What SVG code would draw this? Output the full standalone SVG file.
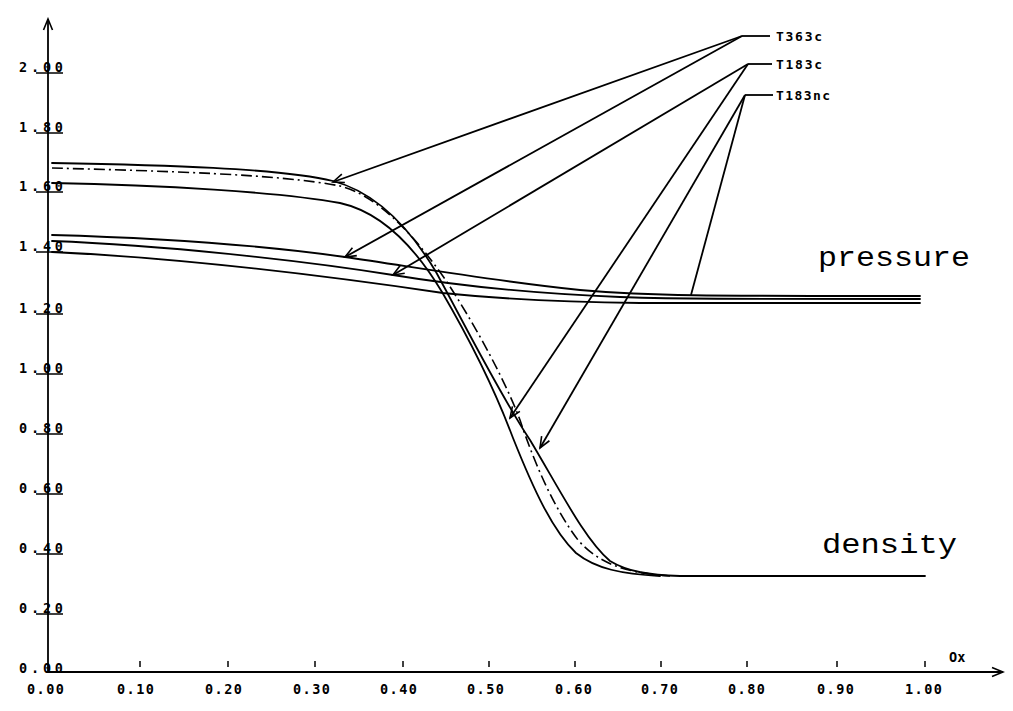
<svg xmlns="http://www.w3.org/2000/svg" width="1013" height="711" viewBox="0 0 1013 711">
<style>
.ax{stroke:#000;stroke-width:1.8;fill:none}
.tk{stroke:#000;stroke-width:1.5;fill:none}
.cv{stroke:#000;stroke-width:1.8;fill:none;stroke-linecap:round}
.dd{stroke:#000;stroke-width:1.6;fill:none;stroke-dasharray:11 4 2 4}
.ld{stroke:#000;stroke-width:1.8;fill:none}
.lb{font-family:"DejaVu Sans Mono","Liberation Mono",monospace;font-weight:bold;font-size:13.5px;fill:#000}
.lg{font-family:"DejaVu Sans Mono","Liberation Mono",monospace;font-weight:bold;font-size:13px;fill:#000}
.big{font-family:"Liberation Mono","Courier New",monospace;font-size:28px;fill:#000}
</style>
<defs>
<marker id="ah" viewBox="-12 -6 14 12" markerWidth="14" markerHeight="12" refX="0" refY="0" orient="auto" markerUnits="userSpaceOnUse">
<path d="M-11,-4.5 L0,0 L-11,4.5" fill="none" stroke="#000" stroke-width="1.6"/>
</marker>
</defs>
<rect width="1013" height="711" fill="#fff"/>
<g id="axes">
<line class="ax" x1="48" y1="672" x2="48" y2="19" marker-end="url(#ah)"/>
<line class="ax" x1="48" y1="672" x2="1003" y2="672" marker-end="url(#ah)"/>
<g id="yticks">
<line class="tk" x1="36" y1="73" x2="63" y2="73"/>
<line class="tk" x1="36" y1="133" x2="63" y2="133"/>
<line class="tk" x1="36" y1="192" x2="63" y2="192"/>
<line class="tk" x1="36" y1="252" x2="63" y2="252"/>
<line class="tk" x1="36" y1="314" x2="63" y2="314"/>
<line class="tk" x1="36" y1="374" x2="63" y2="374"/>
<line class="tk" x1="36" y1="434" x2="63" y2="434"/>
<line class="tk" x1="36" y1="494" x2="63" y2="494"/>
<line class="tk" x1="36" y1="554" x2="63" y2="554"/>
<line class="tk" x1="36" y1="614" x2="63" y2="614"/>
</g>
<g id="ylabels" class="lb">
<text x="19" y="72" textLength="44" lengthAdjust="spacing">2.00</text>
<text x="19" y="132" textLength="44" lengthAdjust="spacing">1.80</text>
<text x="19" y="191" textLength="44" lengthAdjust="spacing">1.60</text>
<text x="19" y="251" textLength="44" lengthAdjust="spacing">1.40</text>
<text x="19" y="313" textLength="44" lengthAdjust="spacing">1.20</text>
<text x="19" y="373" textLength="44" lengthAdjust="spacing">1.00</text>
<text x="19" y="433" textLength="44" lengthAdjust="spacing">0.80</text>
<text x="19" y="493" textLength="44" lengthAdjust="spacing">0.60</text>
<text x="19" y="553" textLength="44" lengthAdjust="spacing">0.40</text>
<text x="19" y="613" textLength="44" lengthAdjust="spacing">0.20</text>
<text x="19" y="673" textLength="44" lengthAdjust="spacing">0.00</text>
</g>
<g id="xticks">
<line class="tk" x1="140" y1="661" x2="140" y2="667"/>
<line class="tk" x1="228" y1="661" x2="228" y2="667"/>
<line class="tk" x1="315" y1="661" x2="315" y2="667"/>
<line class="tk" x1="403" y1="661" x2="403" y2="667"/>
<line class="tk" x1="489" y1="661" x2="489" y2="667"/>
<line class="tk" x1="575" y1="661" x2="575" y2="667"/>
<line class="tk" x1="661" y1="661" x2="661" y2="667"/>
<line class="tk" x1="747" y1="661" x2="747" y2="667"/>
<line class="tk" x1="837" y1="661" x2="837" y2="667"/>
<line class="tk" x1="925" y1="661" x2="925" y2="667"/>
</g>
<g id="xlabels" class="lb">
<text x="27" y="694" textLength="37" lengthAdjust="spacing">0.00</text>
<text x="117" y="694" textLength="37" lengthAdjust="spacing">0.10</text>
<text x="205" y="694" textLength="37" lengthAdjust="spacing">0.20</text>
<text x="293" y="694" textLength="37" lengthAdjust="spacing">0.30</text>
<text x="380" y="694" textLength="37" lengthAdjust="spacing">0.40</text>
<text x="467" y="694" textLength="37" lengthAdjust="spacing">0.50</text>
<text x="555" y="694" textLength="37" lengthAdjust="spacing">0.60</text>
<text x="641" y="694" textLength="37" lengthAdjust="spacing">0.70</text>
<text x="728" y="694" textLength="37" lengthAdjust="spacing">0.80</text>
<text x="817" y="694" textLength="37" lengthAdjust="spacing">0.90</text>
<text x="905" y="694" textLength="37" lengthAdjust="spacing">1.00</text>
</g>
<text class="lb" x="949" y="662">Ox</text>
</g>
<g id="pressure-curves">
<path class="cv" d="M52,235 C160,238 260,245 345,257 C420,268 500,282 580,290 C650,296 700,296 920,296"/>
<path class="cv" d="M52,241 C160,245 300,260 393,275 C460,286 540,294 620,297 C680,299 720,299 920,299"/>
<path class="cv" d="M52,252 C160,257 300,272 443,293 C500,299 560,302 640,303 L920,303"/>
</g>
<g id="density-curves">
<path class="cv" d="M52,163 C160,165 280,168 333,181 C375,192 408,225 436,272 C465,325 500,395 530,440 C560,490 585,540 610,561 C628,572 650,575 680,576 L925,576"/>
<path class="dd" d="M52,168 C160,171 280,174 340,186 C380,196 418,240 447,282 C475,325 505,380 520,420 C535,465 555,510 578,540 C598,563 625,573 670,576"/>
<path class="cv" d="M52,183 C160,185 280,192 340,203 C385,213 418,252 442,292 C470,340 495,390 513,438 C533,488 552,530 576,553 C596,569 622,574 660,576"/>
</g>
<g id="connectors">
<polyline class="ld" points="770,36 742,36"/>
<line class="ld" x1="742" y1="36" x2="333" y2="182" marker-end="url(#ah)"/>
<line class="ld" x1="742" y1="36" x2="345" y2="257" marker-end="url(#ah)"/>
<polyline class="ld" points="772,64 748,64"/>
<line class="ld" x1="748" y1="64" x2="393" y2="275" marker-end="url(#ah)"/>
<line class="ld" x1="748" y1="64" x2="510" y2="418" marker-end="url(#ah)"/>
<polyline class="ld" points="773,95 745,95"/>
<line class="ld" x1="745" y1="95" x2="540" y2="448" marker-end="url(#ah)"/>
<line class="ld" x1="745" y1="95" x2="691" y2="295"/>
</g>
<g id="legend" class="lg">
<text x="776" y="41" textLength="46" lengthAdjust="spacing">T363c</text>
<text x="776" y="69" textLength="46" lengthAdjust="spacing">T183c</text>
<text x="776" y="100" textLength="54" lengthAdjust="spacing">T183nc</text>
</g>
<text class="big" x="818" y="266" textLength="152" lengthAdjust="spacingAndGlyphs">pressure</text>
<text class="big" x="822" y="553" textLength="135" lengthAdjust="spacingAndGlyphs">density</text>
</svg>
